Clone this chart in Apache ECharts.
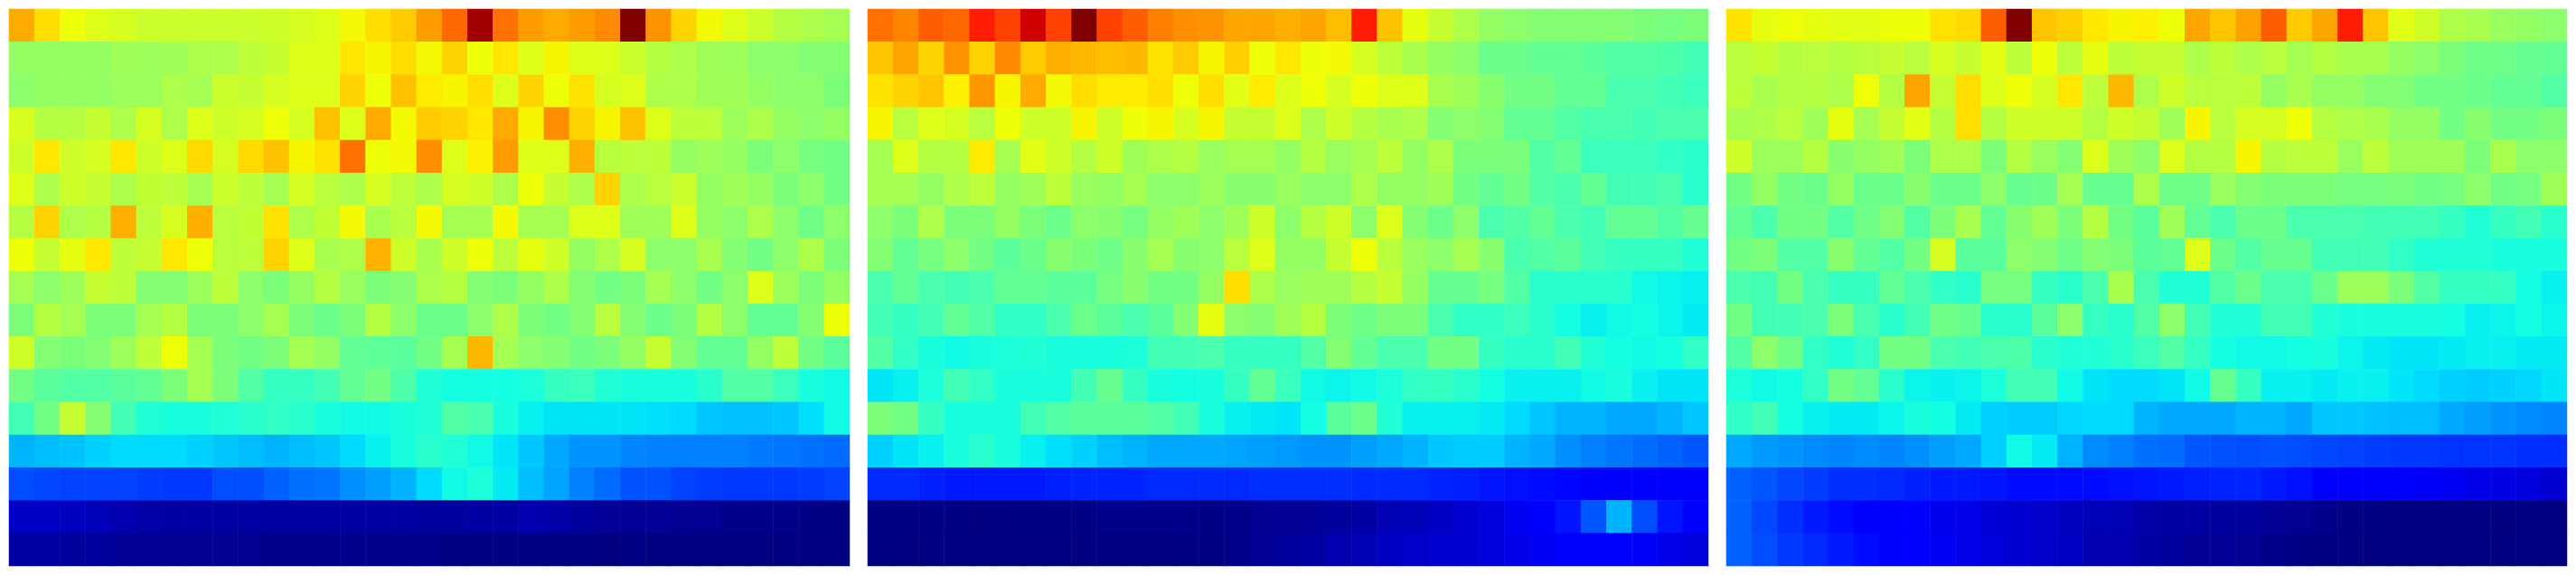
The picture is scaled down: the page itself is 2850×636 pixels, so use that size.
<!DOCTYPE html>
<html>
<head>
<meta charset="utf-8">
<style>html,body{margin:0;padding:0;background:#fff}#c{width:2850px;height:636px}</style>
<script src="https://cdn.jsdelivr.net/npm/echarts@6/dist/echarts.min.js"></script>
</head>
<body>
<div id="c"></div>
<script>
const columns = Array.from({length:33},(_, i)=>String(i));
const rows = Array.from({length:17},(_, i)=>String(i));

const panelA = [
[73,67.5,64,62,61,59.5,59.5,59.5,59.5,59.5,60,61,62,64.5,67.5,69.5,74.5,80,97,79,74.5,73,74.5,76.5,100,75.5,68.5,64.5,62,59.5,57,56,55],
[53,53,53,53,54.5,54,54.5,56,56,58,59,62,62,66.5,65,67.5,64.5,68.5,64,66.5,62,65,62,62,59.5,57,56,54.5,54,52,52,51,51],
[52,53,53,53,54,54,56,55,59.5,59,61,62,62,68.5,64,70.5,66,65,67.5,62,68.5,64,67,61,62,56,56,54.5,54.5,53,52,52,50],
[61,57,57,59,56,61,56,62,60,61,64,61,70.5,62,73,64.5,69.5,68.5,66.5,73,65,76,68.5,65,70.5,62,58,58,54,56,53,52,53],
[60,66.5,60,61,66.5,60,62,68,61,68,70.5,65,67,79,64,64.5,76,62,65.5,74.5,62,62,72.5,57.5,58,58,53,54,53,50,52,49.5,49],
[62,56,60,59,56,58.5,58,55,59.5,58,55,61,57.5,56,61,58,56,61,60,56,64,59,56,68.5,56,57.5,59.5,53,54.5,53,50,52,49],
[57,68.5,56,57,72.5,58,61,72.5,57.5,58.5,67,56,58.5,64.5,55.5,57.5,64.5,55,55,64.5,55,55,62,62,54.5,54.5,62,53,52,56,52,48.5,52],
[64,59,63,66.5,58,59,66.5,64,57.5,58,68.5,62,55.5,56,72,60,55.5,60,64,58,63,60,53,56,61,52,52,55.5,51,49,52,56,50],
[55,52,54,59,58,51,51,54,58,52,50,53,57,53.5,50,51,56,57,51,50,53,56,51,49,50,55,52,49,52,62,54,50,53],
[50,57,55,50,50,55,57,50,50,52,55,50,48,50,57,52,48,48,52,56,50,49,51,57.5,51,48,50,57,52,47,47,51,64],
[60,51,50,51,54,58,64,55,50,49,50,55,53,47,46.5,46,49,55,71.5,55,52,51,49,50,53,59,51,47,47,53,58,49,46],
[49,46,45,45,46,47,50,55,50,45,41.5,41.5,43,47,49,44.5,39,37.5,37.5,37.5,38.5,41.5,42,39,38,38,38,40,45,45,42,38,37],
[43,49,59,51,43,39,38,38,39,40,41,40,38,37,37,38,39,45,44,38,36,35,35,35,35,34.5,34,32,31.5,31.5,32,34.5,37],
[30,31,31.5,33,34,34,34,33,32,31,30,31,32,34,36,38,40,39,37,35,32,29,27,27,25.5,25,25,25,25,24.5,24,23.5,23],
[20,19.5,19,19,19,18.5,18,18,20,20,22,23.5,24,26.5,28,30,34,37,38.5,35.5,31,28.5,25,23,20.5,20.5,19,18.5,18,18,18,18.5,19],
[6,6,5.5,5,4,3.5,3,3,3,3,3,3,3,3,3,3,2.5,2.5,3,3,4,3.5,2.5,2,2,2,1.5,1.5,1,1,1,0.5,0.5],
[3,3,2.5,2.5,2,2,1.5,1.5,1.5,1.5,1,1,1,1,1,1,1,0.5,0.5,0.5,0.5,0.5,0.5,0,0.5,0,0,0,0,0,0,0,0]
];

const panelB = [
[79,77,81,80,88,84,93,84,100,84,81,77.5,76,75.5,73.5,73.5,72.5,73.5,71,88,70.5,63,59,56,53,52,51,51,51,51,50,49.5,50],
[70,73.5,68.5,75.5,68.5,76.5,69.5,72.5,71.5,71,71.5,67,69.5,65,69,64,66.5,64,64.5,61,58,55.5,53,52,48,48,47,47,46,45,45,44.5,43],
[67,68.5,70,65.5,75,65,73,64.5,67.5,66,66,67.5,64,67.5,62.5,66,62,64,61,64,62,62,55.5,54.5,51.5,49,49,47,47,44,44,43,42],
[65,57.5,62,61,57.5,64,60,60,65,60,64,65,61,65,59,59,62,56,60,57,55.5,56,51,52,51,47,47,45,44,44,43,44,44],
[55,62,57,57,66,55,62.5,60,57,60,54.5,56,57,53.5,55,55,53,57,53.5,55,58,53,56,50,50,50,45,47,42,42,42,41,40],
[55,55,53,56,58,53,54.5,58,53.5,53,55,52,52,54,51.5,51.5,53.5,52,52,56,53,53,54.5,49,47,49,45,44,47,43,43,44,40],
[52,50,56,50,50,53,50,48,52,51.5,49.5,53,54.5,52,54.5,60,52,57,60,52,62,51,48,52,44,45,47,44,43,47,47,45,47.5],
[51,47,49.5,52,49,46,48,51.5,50,48.5,51.5,55,51.5,52,57.5,62,53,53,59,64,57.5,53.5,52,55,51.5,44,45,46,43,41.5,41.5,41.5,39],
[44,47,44,43,44,47,47,46,46,49.5,51.5,49,49,53,67.5,56,53.5,54.5,54.5,57,59,53,47.5,47.5,49.5,45,40,40,40,40,37,36.5,36],
[43,41.5,43,47,45,41,41,44,48,46,44,46,51,63,52,51,54.5,57,50,48.5,50,50,44,41,41,42,40,37.5,36,37,37.5,36.5,35.5],
[45,41,38,37,38,38.5,39,38,38,38,38.5,43,43,44,41.5,41.5,41.5,45,51,47,44,44,49,49,41.5,40,40,43,39,37.5,37,37.5,41],
[35,36,38.5,43,41,38,38,38,43,47.5,41.5,38,37.5,38,41.5,47,42,37,36.5,37,38.5,41,41.5,40,37.5,36,36,36,37,38,36,35,35],
[50,49,41.5,38,38,38,43,45,46,46,46,45,43,38,36,35.5,35,37.5,46,48,39,36,36,36,35.5,34,32,30,30,29,29,30,32],
[33,35,36,38,40,38,36,34.5,33,31,30,29,29,29,28.5,28,27.5,27,27,28,29,30,32,32.5,32.5,30,29,26.5,25,24,23,22,21],
[16.5,16.5,15.5,15,15,15,15,15.5,16,16,16,16.5,16.5,16.5,16.5,17,17,17,17,16.5,16.5,16.5,16,15.5,14.5,14,13.5,13,12.5,12,12,12,12],
[0.5,0.2,0.2,0.2,0,0,0.2,0.5,0.5,1,1,1,1,0.5,1,1.5,2,2,2.5,3,4.5,5,6,7,8,10,11,14.5,21,30,20,14.5,12],
[0.2,0,0,0,0,0,0,0,0,0,0,0,0.2,0.2,1,2,2.5,3,4,4.5,6,6.5,7,7,8,9,10,11,12,12,10.5,9,8]
];

const panelC = [
[67,63,64,63,62.5,62.5,64,64,67,68,81,100,70,69,66.5,65,65.5,64,73.5,70,74,81,69.5,73.5,88,70,62.5,60,56,55.5,53.5,53,52],
[57.5,59,57,57.5,57,57.5,59,57.5,61,59,62.5,58,64,58,63,58,59,59,56,58,56,57.5,55,57,55.5,55.5,53,52,50,48.5,48.5,47.5,47],
[58,55.5,57,57,56,64,57,73.5,59,67.5,62,64,61,66.5,58,71.5,56,60,57.5,57.5,58,53,55.5,53,53,51,51,49,49,48,47,47,45],
[55.5,56,57.5,54.5,63,55,59,62.5,57,67.5,57,60,60,60,57,60,59,54.5,65,57.5,61,61,64,57,56,55.5,53,53,49,51.5,49,49,50],
[60,54,54,57,51.5,53,54.5,50,56,56,50,57,53.5,51,62,54.5,52,62,57,57,65,57,58,58,53.5,58,54.5,54.5,54.5,50,55.5,52,52],
[49,53,49,48,53,48,48,51.5,48,48,52,47.5,48,55,47.5,47.5,56,48.5,48.5,53.5,51,50,50,50,49.5,49.5,50,49,49.5,52,49,49.5,54.5],
[47,44,49,49,45,48.5,51,45,50,55.5,47,51.5,54.5,50,57,49,46,54.5,47,44,48,48,44,44,44,43,43,43,41.5,39,41.5,43,40],
[49,50,45,45,51.5,47,45,49,61,46,46,52,51,48.5,51,50,46,47,62,48,45,47.5,47.5,43,43,43,41,39,39,39,38,38,38],
[44,43,49,44,41.5,41.5,47,44,41,40,49.5,49.5,41.5,40,44,55.5,44,39,39,45,48,44,44,48,54,54,50,45,41.5,41.5,41.5,37.5,36],
[49,43,43,44,50,44,40,43,48.5,47.5,40,40,46,52,41.5,40,45,52,43,39,39,43,43,39,38,38,38,38,37.5,36,36.5,37.5,36.5],
[45,52,48.5,41,39,41,49,49,44,43,44,44.5,40,39,39,40,42,45,41.5,37.5,37,37,37.5,38,36.5,35.5,35,35,35.5,36,36,35.5,35.5],
[38.5,37,37.5,41,49,47,40,36.5,36,36.5,38.5,43,43,37,35,34,34,35,37,47.5,41.5,36,36,35.5,36,36,35,34,33,32.5,33,33.5,35],
[41,43,37.5,36,35.5,35.5,36.5,38,37.5,35.5,33,32.5,32.5,33.5,34,34,30,29,29,29,30,30,29,32,32,31.5,31,31,29,28,27,26,25.5],
[29,27.5,27,26,25.5,26,25.5,26.5,28,29,33,37,35.5,30,26,25,23.5,23,21,20.5,20,20.5,20,19.5,19,18.5,18,18,17.5,17.5,17.5,17,17],
[22,21,19.5,18.5,17,17,16.5,15.5,15,15,14.5,13.5,13.5,13.5,13.5,14,14.5,15,15.5,16,16,15,14,12,12,12,12,10.5,10,9,8.5,8,7],
[22,19.5,17,15,13.5,11.5,12,12,9.5,9,7.5,7,6.5,5.5,5,4.5,3.5,3,3,2.5,2.5,2,1.5,1,0.5,0.5,0,0,0,0,0,0,0],
[22,20,18,16.5,15,13.5,12,12,10,9,8,7,6.5,6,4,4,3,2.5,2,2,1.5,1,0.5,0.3,0,0,0,0,0,0,0,0,0]
];

function jetColor(t){
  const seg=(p,x)=>{for(let i=1;i<p.length;i++){if(x<=p[i][0]){const a=p[i-1],b=p[i];return a[1]+(b[1]-a[1])*(x-a[0])/(b[0]-a[0]);}}return p[p.length-1][1];};
  const r=seg([[0,0],[0.35,0],[0.66,1],[0.89,1],[1,0.5]],t);
  const g=seg([[0,0],[0.125,0],[0.375,1],[0.64,1],[0.91,0],[1,0]],t);
  const b=seg([[0,0.5],[0.11,1],[0.34,1],[0.65,0],[1,0]],t);
  return 'rgb('+Math.round(r*255)+','+Math.round(g*255)+','+Math.round(b*255)+')';
}
const jet=[];for(let i=0;i<=200;i++)jet.push(jetColor(i/200));

const panels=[panelA,panelB,panelC];
const lefts=[10,960,1910];
const option={
  animation:false,
  backgroundColor:'#fff',
  tooltip:{show:false},
  visualMap:{show:false,type:'continuous',min:0,max:100,seriesIndex:[0,1,2],inRange:{color:jet}},
  grid:lefts.map(l=>({left:l,top:10,width:930,height:616})),
  xAxis:lefts.map((_, i)=>({type:'category',gridIndex:i,data:columns,show:false})),
  yAxis:lefts.map((_, i)=>({type:'category',gridIndex:i,data:rows,inverse:true,show:false})),
  series:panels.map((p,i)=>({
    type:'heatmap',xAxisIndex:i,yAxisIndex:i,progressive:0,silent:true,
    data:p.flatMap((row,y)=>row.map((v,x)=>[x,y,v]))
  }))
};
echarts.init(document.getElementById('c'),null,{renderer:'canvas'}).setOption(option);
</script>
</body>
</html>
